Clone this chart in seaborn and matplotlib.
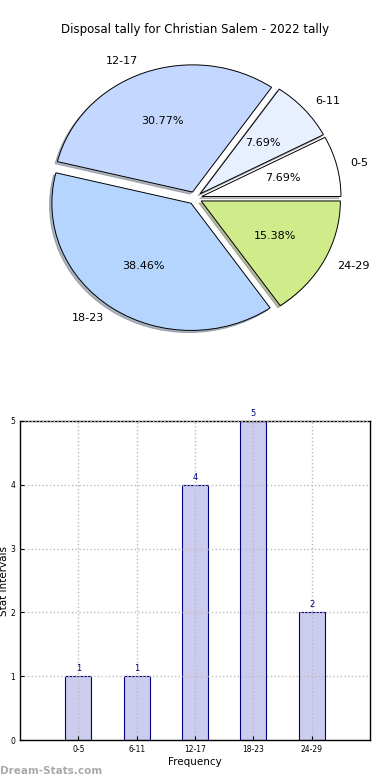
import matplotlib
matplotlib.use("Agg")
import matplotlib.pyplot as plt
import seaborn as sns
import pandas as pd

categories = ['0-5', '6-11', '12-17', '18-23', '24-29']
counts = [1, 1, 4, 5, 2]
pie_colors = ['#ffffff', '#e8f0ff', '#c4d8ff', '#b5d5ff', '#d0eb8a']

sns.set_style("white")
plt.rcParams['font.family'] = ['DejaVu Sans']
plt.rcParams['text.color'] = 'black'
plt.rcParams['axes.labelcolor'] = 'black'
plt.rcParams['xtick.color'] = 'black'
plt.rcParams['ytick.color'] = 'black'

fig = plt.figure(figsize=(3.9, 7.8), dpi=100)

# pie on top (slightly stretched sideways like the original)
ax1 = fig.add_axes([(195 - 174)/390, 1 - 357/780, 348/390, 318/780])
ax1.pie(counts, labels=categories, colors=pie_colors, explode=[0.05] * len(counts),
        autopct='%1.2f%%', startangle=0,
        shadow={'ox': -0.012, 'oy': -0.012, 'shade': 0.5},
        wedgeprops={'edgecolor': 'black', 'linewidth': 0.7},
        textprops={'fontsize': 8, 'color': 'black'})
ax1.set_xlim(-1.25, 1.25)
ax1.set_ylim(-1.25, 1.25)
ax1.set_aspect('auto')
fig.text(0.5, 1 - 30/780, 'Disposal tally for Christian Salem - 2022 tally',
         ha='center', va='center', fontsize=8.5)

# bar chart below
df = pd.DataFrame({'Interval': categories, 'Count': counts})
ax2 = fig.add_axes([20/390, 40/780, 350/390, 319/780])
sns.barplot(data=df, x='Interval', y='Count', ax=ax2, color='#ccccee',
            edgecolor='navy', linewidth=0.8, width=0.45, saturation=1, zorder=1)
ax2.set_xlim(-1, 5)
ax2.set_ylim(0, 5)
ax2.set_yticks(range(6))
ax2.grid(True, linestyle=':', color='#bbbbbb', linewidth=1, zorder=3)
ax2.set_axisbelow(False)
for i, v in enumerate(counts):
    ax2.text(i, v + 0.05, str(v), ha='center', va='bottom', fontsize=6, color='navy')
ax2.tick_params(axis='both', labelsize=5.5, length=3, direction='in', left=True, bottom=True)
for s in ax2.spines.values():
    s.set_color('black')
    s.set_linewidth(1)
ax2.set_xlabel('Frequency', fontsize=7.5, labelpad=2)
ax2.set_ylabel('Stat Intervals', fontsize=7.5)
ax2.yaxis.set_label_coords(-0.032, 0.5)

fig.text(0.0, 9/780, 'Dream-Stats.com', fontsize=7.5, color='#aaaaaa',
         fontweight='bold', ha='left', va='center')

fig.savefig('out.png', dpi=100)
